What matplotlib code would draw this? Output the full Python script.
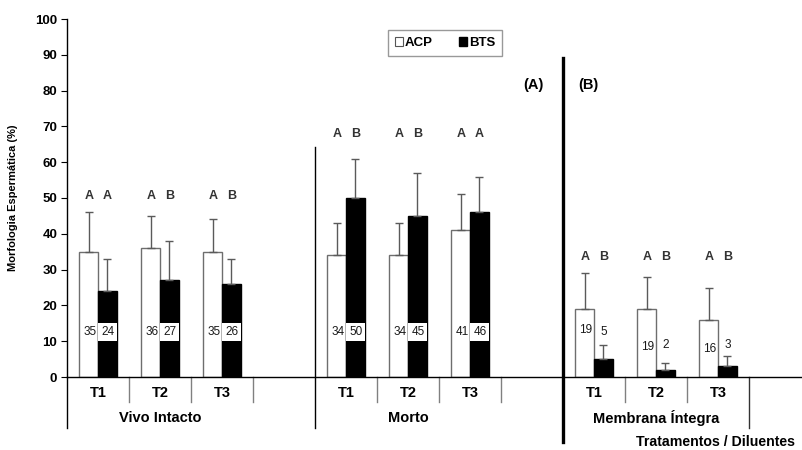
import matplotlib
matplotlib.use("Agg")
import matplotlib.pyplot as plt
from matplotlib.patches import Patch
import numpy as np

plt.rcParams['font.family'] = ['Liberation Sans', 'DejaVu Sans']

# ---- data ----
groups = ["Vivo Intacto", "Morto", "Membrana Íntegra"]
treatments = ["T1", "T2", "T3"]
acp = [35, 36, 35, 34, 34, 41, 19, 19, 16]
bts = [24, 27, 26, 50, 45, 46, 5, 2, 3]
acp_err = [11, 9, 9, 9, 9, 10, 10, 9, 9]
bts_err = [9, 11, 7, 11, 12, 10, 4, 2, 3]
letters_acp = ["A", "A", "A", "A", "A", "A", "A", "A", "A"]
letters_bts = ["A", "B", "B", "B", "B", "A", "B", "B", "B"]
letter_row = [50.5, 68, 33.5]          # height of letter row per group
label_y_acp = [12.6, 12.6, 12.6, 12.6, 12.6, 12.6, 13.1, 8.4, 7.8]
label_y_bts = [12.6, 12.6, 12.6, 12.6, 12.6, 12.6, 12.6, 8.9, 8.9]

# category positions: 4 slots per group (3 treatments + 1 empty)
pos = np.array([g * 4 + t for g in range(3) for t in range(3)], dtype=float)

W, H = 802, 450
fig = plt.figure(figsize=(W / 100, H / 100), dpi=100)
ax = fig.add_axes([67 / W, 1 - 377 / H, (W - 67) / W, 358 / H])
ax.set_xlim(-0.5, -0.5 + (W - 67) / 62)
ax.set_ylim(0, 100)

bw = 0.3
ax.bar(pos - bw / 2, acp, bw, color="white", edgecolor="#6e6e6e", linewidth=1.0, zorder=2)
ax.bar(pos + bw / 2, bts, bw, color="black", edgecolor="black", linewidth=1.0, zorder=2)

ekw = dict(fmt="none", ecolor="#5a5a5a", elinewidth=1.0, capsize=3, capthick=1.0, zorder=3)
ax.errorbar(pos - bw / 2, acp, yerr=[np.zeros(len(acp)), acp_err], **ekw)
ax.errorbar(pos + bw / 2, bts, yerr=[np.zeros(len(bts)), bts_err], **ekw)

# value labels
for i, x in enumerate(pos):
    ax.text(x - bw / 2 + 0.02, label_y_acp[i], str(acp[i]), ha="center", va="center",
            fontsize=8.5, color="#1a1a1a", zorder=4)
    ax.text(x + bw / 2 + 0.01, label_y_bts[i], str(bts[i]), ha="center", va="center",
            fontsize=8.5, color="#1a1a1a", zorder=4,
            bbox=dict(boxstyle="square,pad=0.25", fc="white", ec="none"))
    g = i // 3
    ax.text(x - bw / 2, letter_row[g], letters_acp[i], ha="center", va="center",
            fontsize=9, fontweight="bold", color="#333333")
    ax.text(x + bw / 2, letter_row[g], letters_bts[i], ha="center", va="center",
            fontsize=9, fontweight="bold", color="#333333")

# axes styling
for s in ["top", "right"]:
    ax.spines[s].set_visible(False)
ax.spines["left"].set_linewidth(1.0)
ax.spines["bottom"].set_linewidth(1.0)
ax.set_xticks([])
ax.set_yticks(np.arange(0, 101, 10))
ax.tick_params(axis="y", direction="out", length=4, width=0.8, pad=3)
for lab in ax.get_yticklabels():
    lab.set_fontweight("bold")
    lab.set_fontsize(9.5)
ax.set_ylabel("Morfologia Espermática (%)", fontsize=8, fontweight="bold", labelpad=12)

# category separators below the axis
y_short, y_long = -7.0, -14.2
for g in range(3):
    for t in range(3):
        b = g * 4 + t + 0.5
        if b == 10.5:
            continue
        ax.plot([b, b], [0, y_short], color="#808080", lw=1.0, clip_on=False)
ax.plot([-0.5, -0.5], [0, y_long], color="black", lw=1.0, clip_on=False)
ax.plot([3.5, 3.5], [64.2, y_long], color="black", lw=1.0, clip_on=False)
ax.plot([10.5, 10.5], [0, y_long], color="#333333", lw=1.0, clip_on=False)
ax.plot([7.5, 7.5], [89.1, -18.2], color="black", lw=2.4, clip_on=False)

# treatment and group labels
for i, x in enumerate(pos):
    ax.text(x, -4.5, treatments[i % 3], ha="center", va="center",
            fontsize=10.5, fontweight="bold", clip_on=False)
for g, name in enumerate(groups):
    ax.text(g * 4 + 1, -11.5, name, ha="center", va="center",
            fontsize=10.5, fontweight="bold", clip_on=False)

fig.text(533 / W, 1 - 85 / H, "(A)", fontsize=10.5, fontweight="bold", ha="center", va="center")
fig.text(588 / W, 1 - 85 / H, "(B)", fontsize=10.5, fontweight="bold", ha="center", va="center")
fig.text(636 / W, 1 - 442 / H, "Tratamentos / Diluentes", fontsize=10.2, fontweight="bold",
         ha="left", va="center")

handles = [Patch(facecolor="white", edgecolor="#555555", linewidth=0.8, label="ACP"),
           Patch(facecolor="black", edgecolor="black", label="BTS")]
leg = fig.legend(handles=handles, loc="center", bbox_to_anchor=(445 / W, 1 - 43 / H),
                 ncol=2, frameon=True, fancybox=False, handlelength=0.6, handleheight=0.6,
                 handletextpad=0.15, columnspacing=2.0, borderpad=0.5, borderaxespad=0,
                 prop=dict(weight="bold", size=9.5))
leg.get_frame().set_edgecolor("#808080")
leg.get_frame().set_linewidth(1.0)

fig.savefig("out.png", dpi=100)
